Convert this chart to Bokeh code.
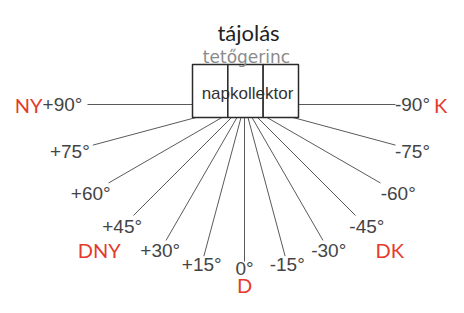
import math
from bokeh.plotting import figure
from bokeh.models import Range1d
from bokeh.core.properties import value
from bokeh.embed import file_html
from bokeh.resources import INLINE

# ---- data ----
title_text = "tájolás"
ridge_text = "tetőgerinc"
collector_text = "napkollektor"
angles = [90, 75, 60, 45, 30, 15, 0, -15, -30, -45, -60, -75, -90]
angle_labels = ["+90°", "+75°", "+60°", "+45°", "+30°", "+15°", "0°",
                "-15°", "-30°", "-45°", "-60°", "-75°", "-90°"]
directions = ["NY", "DNY", "D", "DK", "K"]
direction_angles = [90, 45, 0, -45, -90]
panels = [0, 1, 2]

# ---- geometry / style ----
W, H = 448, 297
cx, cy = 244, 104          # virtual centre of the fan
box_l, box_r, box_t, box_b = 192, 298, 64, 117
R = 157
X_MAX_LINE, X_MAX_LABEL, X_MAX_DIR = 395, 412, 440
RED = "#e5392c"
GREY = "#444444"

p = figure(width=W, height=H, x_range=Range1d(0, W), y_range=Range1d(H, 0),
           output_backend="svg", toolbar_location=None,
           x_axis_location=None, y_axis_location=None,
           min_border=0, outline_line_color=None)
p.grid.visible = False

# rays
x0s, y0s, x1s, y1s = [], [], [], []
lx, ly = [], []
for a in angles:
    r = math.radians(a)
    dx, dy = -math.sin(r), math.cos(r)
    tb = (box_b - cy) / dy if dy > 1e-9 else float("inf")
    if dx < -1e-9:
        ts = (cx - box_l) / -dx
    elif dx > 1e-9:
        ts = (box_r - cx) / dx
    else:
        ts = float("inf")
    t0 = min(tb, ts)
    x0s.append(cx + t0 * dx); y0s.append(cy + t0 * dy)
    x1s.append(min(cx + R * dx, X_MAX_LINE)); y1s.append(cy + R * dy)
    rl = 164 + 18 * math.sin(r) ** 2
    lx.append(min(cx + rl * dx, X_MAX_LABEL)); ly.append(cy + rl * dy)

p.segment(x0=x0s, y0=y0s, x1=x1s, y1=y1s, line_color="#5a5a5a", line_width=1)

p.text(x=lx, y=ly, text=angle_labels, text_align="center", text_baseline="middle",
       text_font=value("Liberation Sans"), text_font_size="19px", text_color=GREY)

# direction labels
dxs, dys = [], []
for a in direction_angles:
    r = math.radians(a)
    rd = 180 + 36 * abs(math.sin(r))
    x = cx - rd * math.sin(r)
    dxs.append(min(max(x, 16), X_MAX_DIR))
    dys.append(cy + rd * math.cos(r))
p.text(x=dxs, y=dys, text=directions, text_align="center", text_baseline="middle",
       text_font=value("Lato"), text_font_size="20px", text_color=RED)

# collector box (three panels)
pw = (box_r - box_l) / len(panels)
p.quad(left=[box_l + i * pw for i in panels], right=[box_l + (i + 1) * pw for i in panels],
       top=box_t, bottom=box_b, fill_color="white", line_color="#2a2a2a", line_width=1.5)

bx = (box_l + box_r) / 2
p.text(x=[bx + 2], y=[93], text=[collector_text], text_align="center", text_baseline="alphabetic",
       text_font=value("Liberation Sans"), text_font_size="17px", text_color="#333333")
p.text(x=[bx + 1], y=[56], text=[ridge_text], text_align="center", text_baseline="alphabetic",
       text_font=value("DejaVu Sans"), text_font_size="17px", text_color="#8a8a8a")
p.text(x=[bx + 3], y=[32], text=[title_text], text_align="center", text_baseline="alphabetic",
       text_font=value("Lato"), text_font_size="22px", text_color="#222222")

open("out.html", "w").write(file_html(p, INLINE))
